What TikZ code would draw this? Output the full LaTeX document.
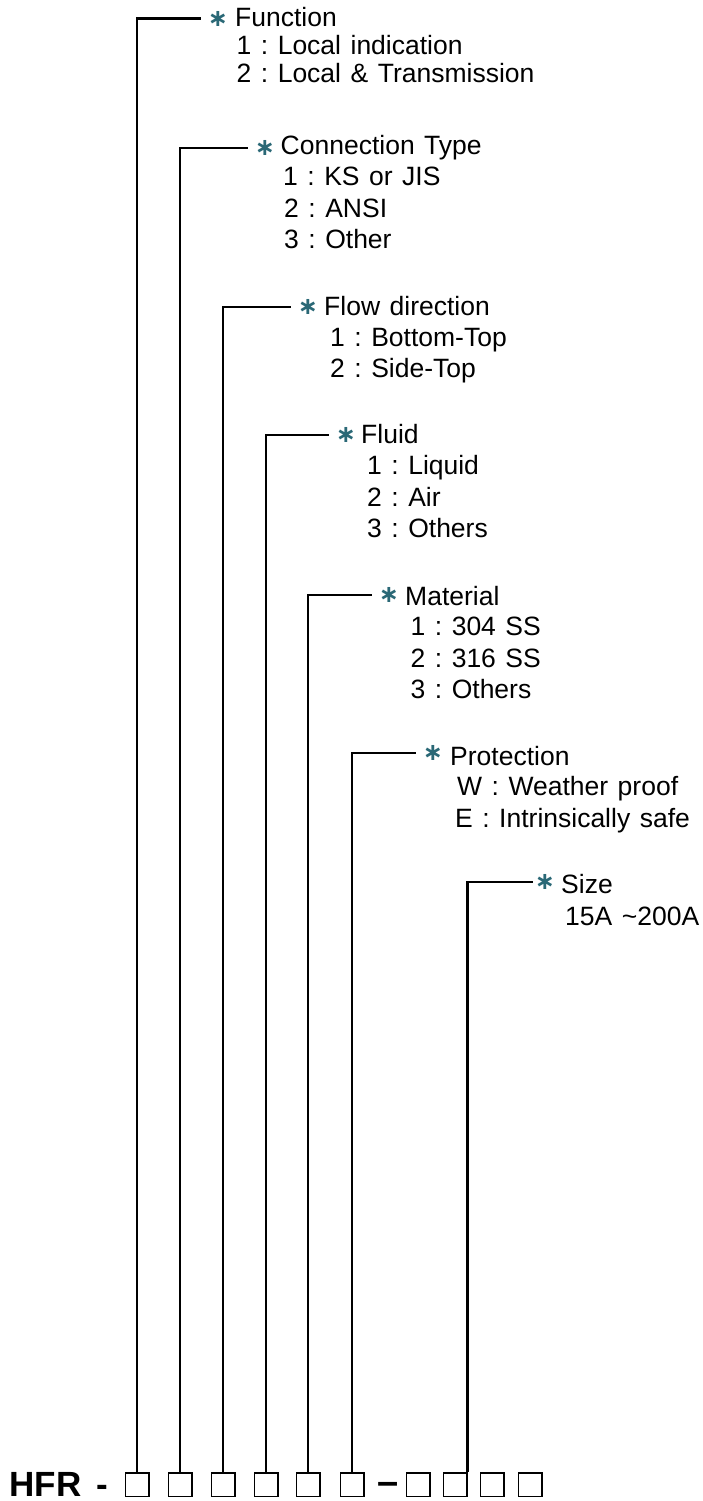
\documentclass[tikz,border=0pt]{standalone}
\usepackage{fontspec}
\setmainfont{Liberation Sans}
\newfontfamily\starfont{DejaVu Sans}
\definecolor{starteal}{RGB}{42,104,118}
\frenchspacing
\newcommand\keyfont{\fontsize{26.5}{28}\selectfont\spaceskip 9.5pt plus 2pt\relax}

\begin{document}
\begin{tikzpicture}[x=1pt,y=-1pt,font=\keyfont,
  cell/.style={draw,line width=1.5pt,minimum size=23.5pt,inner sep=0pt},
  lead/.style={line width=2.2pt},
  starnode/.style={text=starteal,inner sep=0pt,inner xsep=6.5pt,font=\starfont\bfseries\fontsize{24}{24}\selectfont},
  txt/.style={anchor=base west,inner sep=0pt}]
\useasboundingbox (0,0) rectangle (703,1501);
% order code
\node[txt,font=\bfseries\fontsize{35}{35}\selectfont] (code) at (9.5,1496.5) {HFR\hspace{15pt}-};
\node[cell] (b1) at (137,1484.5) {};
\node[cell] (b2) at (180,1484.5) {};
\node[cell] (b3) at (223,1484.5) {};
\node[cell] (b4) at (266,1484.5) {};
\node[cell] (b5) at (308,1484.5) {};
\node[cell] (b6) at (352,1484.5) {};
\node[txt,font=\bfseries\fontsize{38}{38}\selectfont] (sep) at (377,1494) {–};
\node[cell] (b7) at (418,1484.5) {};
\node[cell] (b8) at (455,1484.5) {};
\node[cell] (b9) at (492,1484.5) {};
\node[cell] (b10) at (530,1484.5) {};
% function
\node[starnode] (s1) at (218,18.5) {∗};
\node[txt] (t1) at (235,27) {Function};
\node[txt] (t1a) at (236.5,55) {1 : Local indication};
\node[txt] (t1b) at (236.5,83) {2 : Local \& Transmission};
\draw[lead] (b1.north) |- (s1.west);
% connection type
\node[starnode] (s2) at (265,148) {∗};
\node[txt] (t2) at (280.5,154) {Connection Type};
\node[txt] (t2a) at (283,185) {1 : KS or JIS};
\node[txt] (t2b) at (284,217) {2 : ANSI};
\node[txt] (t2c) at (284,248) {3 : Other};
\draw[lead] (b2.north) |- (s2.west);
% flow direction
\node[starnode] (s3) at (308,307) {∗};
\node[txt] (t3) at (324,315) {Flow direction};
\node[txt] (t3a) at (330,346) {1 : Bottom-Top};
\node[txt] (t3b) at (330,377) {2 : Side-Top};
\draw[lead] (b3.north) |- (s3.west);
% fluid
\node[starnode] (s4) at (346,435) {∗};
\node[txt] (t4) at (361,443) {Fluid};
\node[txt] (t4a) at (367,474) {1 : Liquid};
\node[txt] (t4b) at (367,506) {2 : Air};
\node[txt] (t4c) at (367,537) {3 : Others};
\draw[lead] (b4.north) |- (s4.west);
% material
\node[starnode] (s5) at (389,595) {∗};
\node[txt] (t5) at (405,605) {Material};
\node[txt] (t5a) at (410.5,635) {1 : 304 SS};
\node[txt] (t5b) at (410.5,667) {2 : 316 SS};
\node[txt] (t5c) at (410.5,698) {3 : Others};
\draw[lead] (b5.north) |- (s5.west);
% protection
\node[starnode] (s6) at (433,753) {∗};
\node[txt] (t6) at (450,765) {Protection};
\node[txt] (t6a) at (457,795) {W : Weather proof};
\node[txt] (t6b) at (455,827) {E : Intrinsically safe};
\draw[lead] (b6.north) |- (s6.west);
% size
\node[starnode] (s7) at (545,882) {∗};
\node[txt] (t7) at (561,893) {Size};
\node[txt] (t7a) at (565,925) {15A \textasciitilde200A};
\draw[lead,shorten >=-5pt] (b8.north east) |- (s7.west);
\end{tikzpicture}
\end{document}
